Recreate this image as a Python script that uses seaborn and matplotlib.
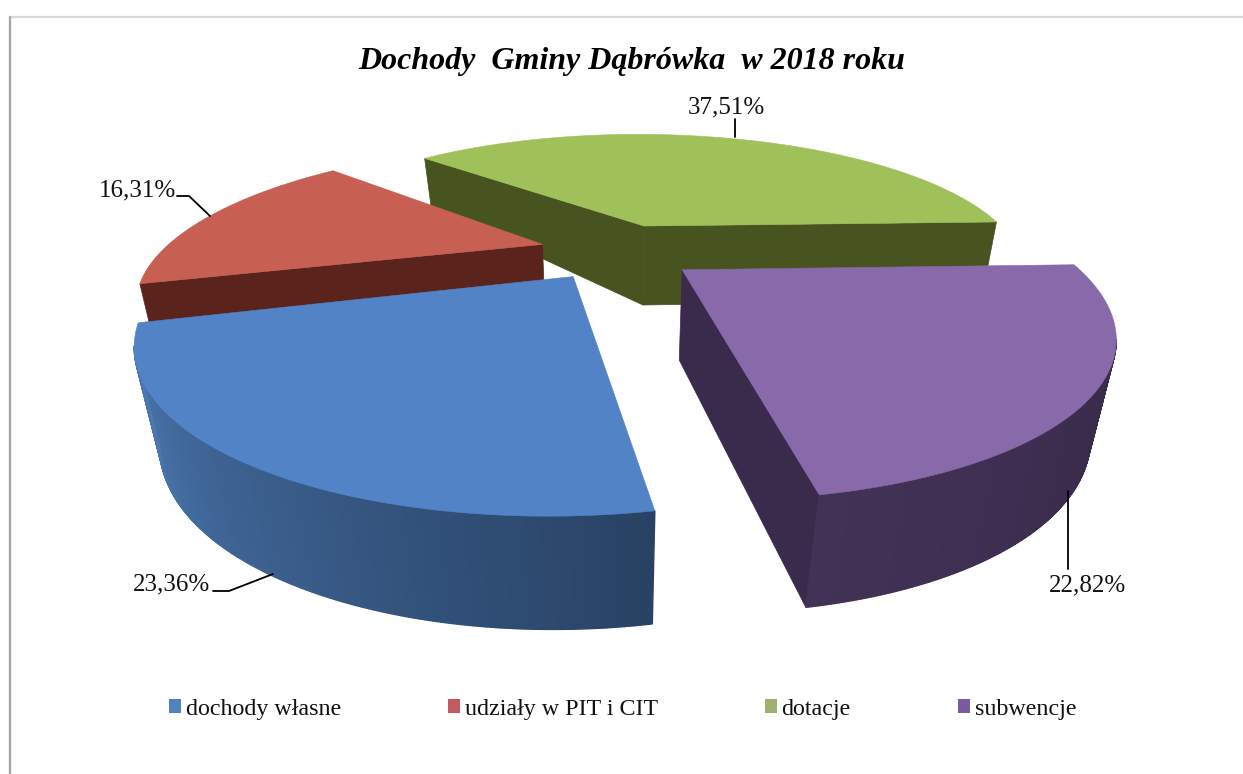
import numpy as np
import matplotlib
matplotlib.use("Agg")
import matplotlib.pyplot as plt
from matplotlib.patches import Patch
from matplotlib.colors import to_rgb
import seaborn as sns

TITLE = "Dochody  Gminy Dąbrówka  w 2018 roku"
categories = ["dochody własne", "udziały w PIT i CIT", "dotacje", "subwencje"]
shares = [23.36, 16.31, 37.51, 22.82]
top_colors = ["#5283c6", "#c75f52", "#a0c05a", "#8869aa"]
cut_colors = ["#2a4568", "#5a231c", "#485420", "#3a2a4c"]
legend_colors = ["#4f83c0", "#c25a60", "#a0b070", "#7a5aa0"]

sns.set_theme(style="white")
plt.rcParams["font.family"] = ["Liberation Serif", "DejaVu Serif"]

# Camera model of the exploded, perspective 3-D pie
START, EXPLODE, K = 170.2, 0.208, 0.335
XV, YH, A, H = 618.0, -157.0, 380.0, 408.0


def project(X, Y, down=0.0):
    w = 1 + K * Y
    sx = XV + A * X / (w + 0.045 * down)
    sy = YH + H / w + down * (105 + 63.7 * w - 82.7 * w ** 2)
    return sx, sy


fig = plt.figure(figsize=(12.43, 7.74), dpi=100)
ax = fig.add_axes([0, 0, 1, 1])
ax.set_xlim(0, 1243)
ax.set_ylim(774, 0)
ax.axis("off")

ax.plot([10, 10, 1243], [774, 17, 17], color="#d8d8d8", lw=1.6, zorder=1)
ax.plot([10, 10], [774, 17], color="#a6a6a6", lw=1.6, zorder=1)

sweeps = np.array(shares) / sum(shares) * 360
starts = START + np.concatenate([[0], np.cumsum(sweeps)[:-1]])


def slice_geometry(i):
    t = np.radians(np.linspace(starts[i], starts[i] + sweeps[i], 300))
    mid = np.radians(starts[i] + sweeps[i] / 2)
    ox, oy = EXPLODE * np.sin(mid), EXPLODE * np.cos(mid)
    return t, ox, oy, ox + np.sin(t), oy + np.cos(t)


def cut_face(i, end, color, z):
    t, ox, oy, X, Y = slice_geometry(i)
    k = 0 if end == "start" else -1
    X2, Y2 = np.array([ox, X[k], X[k], ox]), np.array([oy, Y[k], Y[k], oy])
    d = np.array([0, 0, 1, 1.0])
    sx, sy = project(X2, Y2, d)
    ax.fill(sx, sy, color=color, lw=0.5, zorder=z)


def outer_side(i, c0, c1, z, near_first):
    # Only the part of the rim facing the viewer, up to the widest point
    t, ox, oy, X, Y = slice_geometry(i)
    widest = int(np.argmax(np.abs(project(X, Y)[0] - XV)))
    n = len(t) - 1
    for j in range(n):
        if (near_first and j > widest) or (not near_first and j < widest):
            continue
        f = j / (n - 1)
        col = tuple(np.array(to_rgb(c0)) * (1 - f) + np.array(to_rgb(c1)) * f)
        xa, ya = project(X[j:j + 2], Y[j:j + 2], 0.0)
        xb, yb = project(X[j:j + 2][::-1], Y[j:j + 2][::-1], 1.0)
        ax.fill(np.r_[xa, xb], np.r_[ya, yb], color=col, lw=1.0, zorder=z)


def top_face(i, z):
    t, ox, oy, X, Y = slice_geometry(i)
    sx, sy = project(np.r_[ox, X], np.r_[oy, Y])
    ax.fill(sx, sy, color=top_colors[i], lw=0.4, zorder=z)


# green
cut_face(2, "start", cut_colors[2], 2)
cut_face(2, "end", cut_colors[2], 2)
top_face(2, 3)
# red
cut_face(1, "start", cut_colors[1], 4)
top_face(1, 5)
# blue: shaded from the right (dark) to the left (light)
outer_side(0, "#284264", "#4f7db8", 6, True)
top_face(0, 7)
# purple
cut_face(3, "end", cut_colors[3], 8)
outer_side(3, "#342645", "#423256", 9, False)
top_face(3, 10)

# Leader lines and value labels
labels = [f"{v:.2f}%".replace(".", ",") for v in shares]
label_pos = [(172, 584), (137, 190), (726, 107), (1088, 585)]
leaders = [([213, 229, 273], [591, 591, 574]),
           ([177, 189, 210], [196, 196, 216]),
           ([735, 735], [119, 137]),
           ([1068, 1068], [569, 491])]
for i in range(4):
    ax.plot(*leaders[i], color="black", lw=1.3, zorder=11)
    ax.text(*label_pos[i], labels[i], ha="center", va="center",
            fontsize=18, color="#111111", zorder=12)

ax.text(632, 61, TITLE, ha="center", va="center", fontsize=23,
        style="italic", weight="bold", color="black", zorder=12)

handles = [Patch(facecolor=c, edgecolor="none") for c in legend_colors]
ax.legend(handles, categories, ncol=4, loc="center",
          bbox_to_anchor=(622.5, 709), bbox_transform=ax.transData,
          frameon=False, fontsize=17.3, labelcolor="#111111",
          handlelength=0.5, handleheight=0.5, handletextpad=0.2,
          columnspacing=4.45, borderpad=0, borderaxespad=0)

fig.savefig("out.png", dpi=100)
